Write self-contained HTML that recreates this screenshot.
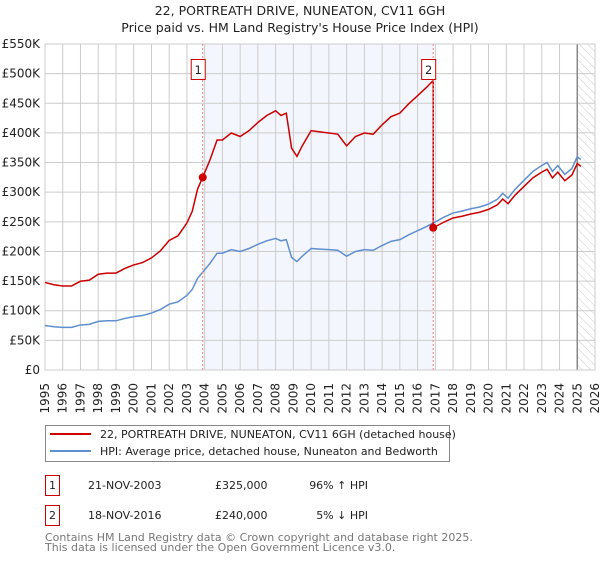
<!DOCTYPE html>
<html><head><meta charset="utf-8"><style>
body{margin:0;background:#fff;font-family:"DejaVu Sans","Liberation Sans",sans-serif;}
svg text{font-family:"DejaVu Sans","Liberation Sans",sans-serif;}
</style></head><body>
<svg id="chart" width="600" height="560" viewBox="0 0 600 560" xmlns="http://www.w3.org/2000/svg">
<defs><pattern id="hatch" width="6" height="6" patternUnits="userSpaceOnUse" patternTransform="rotate(-45)"><line x1="0" y1="0" x2="0" y2="6" stroke="#ccc" stroke-width="1"/></pattern></defs>
<text x="300" y="15" font-size="12.5" text-anchor="middle" fill="#222">22, PORTREATH DRIVE, NUNEATON, CV11 6GH</text>
<text x="300" y="32" font-size="12.5" text-anchor="middle" fill="#222">Price paid vs. HM Land Registry's House Price Index (HPI)</text>
<g id="plot"></g>
<g>
<rect x="45.5" y="425.5" width="404" height="36" fill="#fff" stroke="#888"/>
<line x1="50" y1="434" x2="91" y2="434" stroke="#cc0000" stroke-width="2"/>
<text x="100" y="438" font-size="11" fill="#222">22, PORTREATH DRIVE, NUNEATON, CV11 6GH (detached house)</text>
<line x1="50" y1="451" x2="91" y2="451" stroke="#5f8fd0" stroke-width="2"/>
<text x="100" y="455" font-size="11" fill="#222">HPI: Average price, detached house, Nuneaton and Bedworth</text>
</g>
<g>
<rect x="45.5" y="475.5" width="14" height="20" fill="#fff" stroke="#cc0000"/>
<text x="52.5" y="489" font-size="11" text-anchor="middle" fill="#222">1</text>
<text x="88" y="489" font-size="11" fill="#222">21-NOV-2003</text>
<text x="215" y="489" font-size="11" fill="#222">£325,000</text>
<text x="368" y="489" font-size="11" text-anchor="end" fill="#222">96% ↑ HPI</text>
</g>
<g>
<rect x="45.5" y="505.5" width="14" height="20" fill="#fff" stroke="#cc0000"/>
<text x="52.5" y="519" font-size="11" text-anchor="middle" fill="#222">2</text>
<text x="88" y="519" font-size="11" fill="#222">18-NOV-2016</text>
<text x="215" y="519" font-size="11" fill="#222">£240,000</text>
<text x="368" y="519" font-size="11" text-anchor="end" fill="#222">5% ↓ HPI</text>
</g>
<text x="45" y="541" font-size="11" fill="#777">Contains HM Land Registry data © Crown copyright and database right 2025.</text>
<text x="45" y="551" font-size="11" fill="#777">This data is licensed under the Open Government Licence v3.0.</text>
</svg>
<script>
const hpiYears=[1995,1995.5,1996,1996.5,1997,1997.5,1998,1998.5,1999,1999.5,2000,2000.5,2001,2001.5,2002,2002.5,2003,2003.3,2003.6,2003.89,2004.3,2004.7,2005,2005.5,2006,2006.5,2007,2007.5,2008,2008.3,2008.6,2008.9,2009.2,2009.5,2010,2010.5,2011,2011.5,2012,2012.5,2013,2013.5,2014,2014.5,2015,2015.5,2016,2016.5,2016.88,2017.5,2018,2018.5,2019,2019.5,2020,2020.5,2020.8,2021.1,2021.5,2022,2022.5,2023,2023.3,2023.6,2023.9,2024.3,2024.7,2025,2025.2];
const hpiValues=[75,73,72,72,76,77,82,83,83,87,90,92,96,102,111,115,126,136,155,165,180,197,197,203,200,205,212,218,222,218,220,190,183,192,205,204,203,202,192,200,203,202,210,217,220,228,235,242,248,258,265,268,272,275,280,288,298,290,305,320,335,345,350,335,345,330,340,360,355];
const sales=[{n:"1",year:2003.89,price:325},{n:"2",year:2016.88,price:240}];
const yTicks=[0,50,100,150,200,250,300,350,400,450,500,550];
const yTickLabels=["£0","£50K","£100K","£150K","£200K","£250K","£300K","£350K","£400K","£450K","£500K","£550K"];
const xTicks=[1995,1996,1997,1998,1999,2000,2001,2002,2003,2004,2005,2006,2007,2008,2009,2010,2011,2012,2013,2014,2015,2016,2017,2018,2019,2020,2021,2022,2023,2024,2025,2026];

const X0=45,X1=595,Y0=370,Y1=44;
const xs=y=>X0+(y-1995)/(2026-1995)*(X1-X0);
const ys=v=>Y0-v/550*(Y0-Y1);
const NS="http://www.w3.org/2000/svg";
const g=document.getElementById('plot');
function mk(t,a,p){const e=document.createElementNS(NS,t);for(const k in a)e.setAttribute(k,a[k]);(p||g).appendChild(e);return e;}

function hpiAt(yr){for(let i=0;i<hpiYears.length-1;i++){if(yr<=hpiYears[i+1]){const t=(yr-hpiYears[i])/(hpiYears[i+1]-hpiYears[i]);return hpiValues[i]+t*(hpiValues[i+1]-hpiValues[i]);}}return hpiValues[hpiValues.length-1];}

let e=mk('rect',{x:xs(sales[0].year),y:Y1,width:xs(sales[1].year)-xs(sales[0].year),height:Y0-Y1,fill:'#f3f6fd'});


e=mk('rect',{x:xs(2025),y:Y1,width:X1-xs(2025),height:Y0-Y1,fill:'url(#hatch)'});


xTicks.forEach(t=>{mk('line',{x1:xs(t),y1:Y1,x2:xs(t),y2:Y0,stroke:'#ccc','stroke-width':1});
 e=mk('text',{x:0,y:0,'font-size':12,'text-anchor':'end',fill:'#222',transform:`translate(${xs(t)+4},383) rotate(-90)`});
 e.textContent=t;
 
 });
yTicks.forEach((t,i)=>{mk('line',{x1:X0,y1:ys(t),x2:X1,y2:ys(t),stroke:'#ccc','stroke-width':1});
 e=mk('text',{x:X0-5,y:ys(t)+4,'font-size':12,'text-anchor':'end',fill:'#222'});
 e.textContent=yTickLabels[i];
 
 });
mk('line',{x1:xs(2025),y1:Y1,x2:xs(2025),y2:Y0,stroke:'#888','stroke-width':1.5});
mk('rect',{x:X0,y:Y1,width:X1-X0,height:Y0-Y1,fill:'none',stroke:'#ccc'});

e=mk('polyline',{points:hpiYears.map((y,i)=>xs(y)+','+ys(hpiValues[i])).join(' '),fill:'none',stroke:'#5f8fd0','stroke-width':1.5});



const r1=sales[0].price/hpiAt(sales[0].year), r2=sales[1].price/hpiAt(sales[1].year);
let pts=[];
hpiYears.forEach((y,i)=>{if(y<sales[1].year)pts.push([y,hpiValues[i]*r1]);});
pts.push([sales[1].year,hpiAt(sales[1].year)*r1]);
pts.push([sales[1].year,sales[1].price]);
hpiYears.forEach((y,i)=>{if(y>sales[1].year)pts.push([y,hpiValues[i]*r2]);});
e=mk('polyline',{points:pts.map(p=>xs(p[0])+','+ys(p[1])).join(' '),fill:'none',stroke:'#cc0000','stroke-width':1.5});



sales.forEach(s=>{
 mk('line',{x1:xs(s.year),y1:Y1,x2:xs(s.year),y2:Y0,stroke:'#f08080','stroke-dasharray':'2,2','stroke-width':1});
 e=mk('circle',{cx:xs(s.year),cy:ys(s.price),r:4,fill:'#cc0000'});
 
 
 e=mk('rect',{x:xs(s.year)-11.5,y:59.5,width:14,height:20,fill:'#fff',stroke:'#cc0000'});
 
 
 e=mk('text',{x:xs(s.year)-4.5,y:74,'font-size':11.5,'text-anchor':'middle',fill:'#222'});
 e.textContent=s.n;
});
</script>
</body></html>
